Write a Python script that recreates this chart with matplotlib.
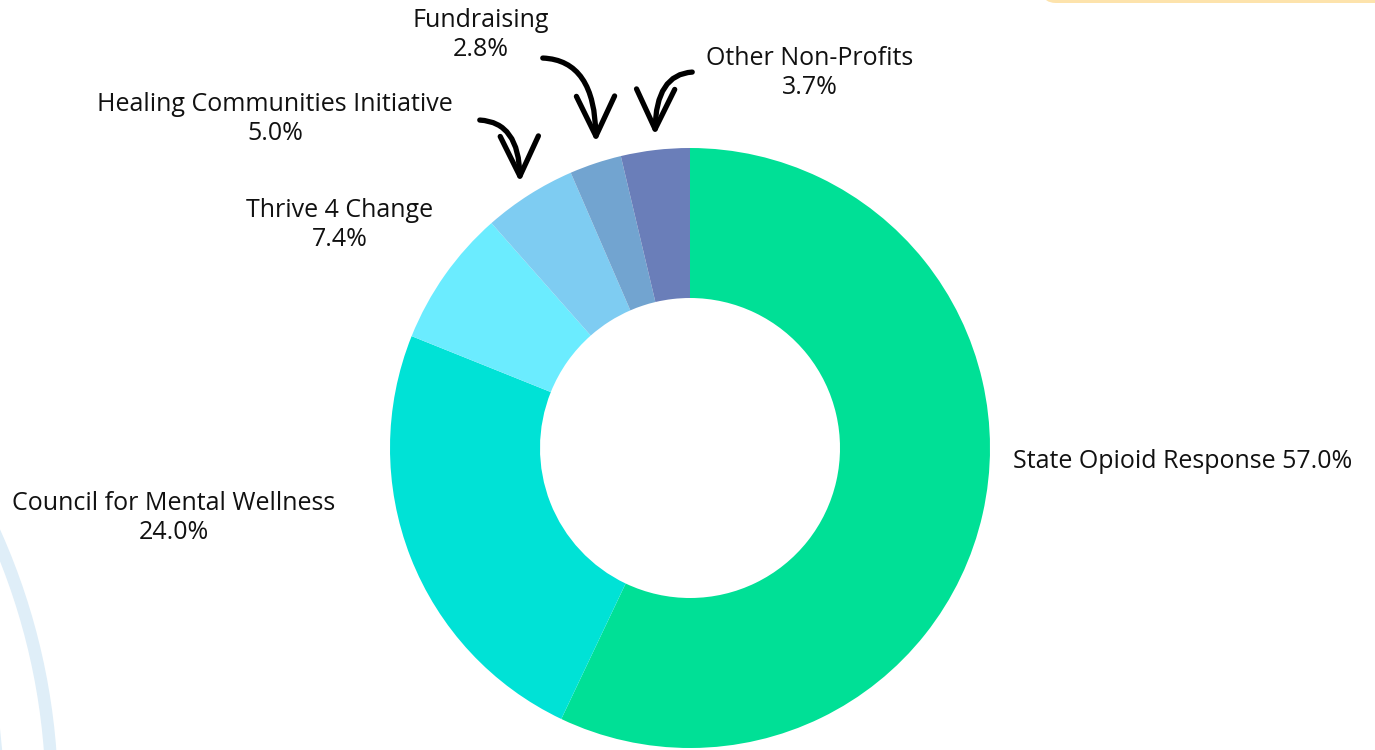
import matplotlib.pyplot as plt
from matplotlib.patches import FancyArrowPatch, Arc, FancyBboxPatch

plt.rcParams['font.family'] = ['Open Sans', 'DejaVu Sans']

# data
labels = ["State Opioid Response", "Council for Mental Wellness", "Thrive 4 Change",
          "Healing Communities Initiative", "Fundraising", "Other Non-Profits"]
shares = [57.0, 24.0, 7.4, 5.0, 2.8, 3.7]
colors = ["#00E096", "#00E2D6", "#6BECFF", "#7ECCF2", "#72A4D0", "#6A7EB9"]

W, H = 1375, 750
fig = plt.figure(figsize=(13.75, 7.5), dpi=100)
ax = fig.add_axes([0, 0, 1, 1])


def Y(y):
    return H - y


ax.pie(shares, colors=colors, startangle=90, counterclock=False,
       radius=300, center=(690, Y(448)), wedgeprops=dict(width=150, linewidth=0))
ax.set_xlim(0, W)
ax.set_ylim(0, H)
ax.set_aspect('equal')
ax.axis('off')

# background decorations
for r in (652, 598):
    ax.add_patch(Arc((-600, Y(800)), 2 * r, 2 * r, theta1=0, theta2=90,
                     color="#DFEEF8", lw=9, zorder=0))
ax.add_patch(FancyBboxPatch((1042, Y(3)), 400, 30, boxstyle="round,pad=0,rounding_size=14",
                            fc="#FDE3AC", ec="none", zorder=0))

fs = 18
txt = dict(fontsize=fs, color="#111111", ha="center", va="center", linespacing=1.25)
ax.text(1013, Y(461), f"{labels[0]} {shares[0]:.1f}%", fontsize=fs, color="#111111",
        ha="left", va="center")
ax.text(174, Y(518), f"{labels[1]}\n{shares[1]:.1f}%", **txt)
ax.text(340, Y(225), f"{labels[2]}\n{shares[2]:.1f}%", **txt)
ax.text(275, Y(119), f"{labels[3]}\n{shares[3]:.1f}%", **txt)
ax.text(481, Y(35), f"{labels[4]}\n{shares[4]:.1f}%", **txt)
ax.text(810, Y(73), f"{labels[5]}\n{shares[5]:.1f}%", **txt)

# hand-drawn style arrows: start horizontal, end pointing straight down
arrows = [((477, 120), (520, 185), 0),
          ((540, 58), (596, 145), 0),
          ((695, 72), (655, 138), 180)]
for (x0, y0), (x1, y1), a in arrows:
    ax.add_patch(FancyArrowPatch((x0, Y(y0)), (x1, Y(y1)),
                                 connectionstyle=f"angle3,angleA={a},angleB=90",
                                 arrowstyle="->,head_length=1.15,head_width=0.55",
                                 mutation_scale=25, lw=3.8, color="black",
                                 capstyle="round", joinstyle="round"))

fig.savefig("out.png", dpi=100, facecolor="white")
